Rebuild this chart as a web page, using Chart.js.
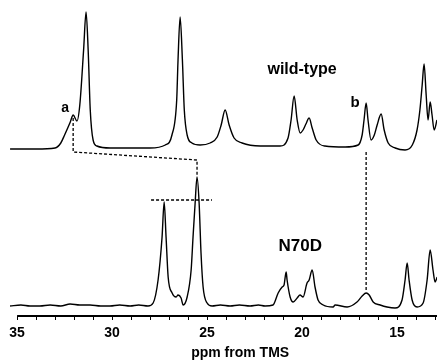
<!DOCTYPE html>
<html>
<head>
<meta charset="utf-8">
<script src="https://cdn.jsdelivr.net/npm/chart.js@4"></script>
<style>
  html, body { margin: 0; padding: 0; background: #fff; }
  canvas { display: block; }
</style>
</head>
<body>
<canvas id="nmr" width="437" height="360"></canvas>
<script>
// chemical shift (ppm) and intensity above baseline
const WT_PPM = [35.37, 34.0, 33.0, 32.7, 32.5, 32.2, 32.05, 31.85, 31.7, 31.5, 31.37, 31.26, 31.15, 31.0, 30.8, 30.1,
  28.0, 27.2, 26.85, 26.6, 26.53, 26.42, 26.3, 26.2, 26.05, 25.8, 25.37, 24.84, 24.47, 24.26, 24.05, 23.84, 23.58,
  23.16, 22.2, 21.16, 20.74, 20.58, 20.42, 20.26, 20.1, 19.95, 19.8, 19.63, 19.47, 19.26, 18.8, 17.74, 17.05, 16.84,
  16.74, 16.63, 16.53, 16.37, 16.2, 16.05, 15.84, 15.68, 15.47, 15.1, 14.58, 14.2, 13.95, 13.8, 13.68, 13.58, 13.47,
  13.37, 13.26, 13.16, 13.05, 12.9];
const WT_INT = [0, 0, 1, 6, 14, 27, 34, 28, 44, 99, 137, 99, 39, 9, 3, 1,
  1, 4, 14, 49, 89, 132, 89, 39, 14, 6, 4, 6, 12, 24, 39, 24, 11,
  6, 3, 3, 11, 29, 53, 29, 16, 19, 25, 31, 21, 9, 3, 2, 4, 14,
  29, 46, 29, 9, 14, 24, 35, 19, 6, 1, -1, 4, 19, 39, 64, 85, 54,
  29, 47, 34, 19, 29];

const N70D_PPM = [35.37, 34.8, 34.32, 33.8, 33.26, 32.7, 32.21, 31.7, 31.16, 30.6, 30.11, 29.6, 29.05, 28.6, 28.11,
  27.84, 27.58, 27.37, 27.26, 27.16, 27.05,
  26.84, 26.63, 26.53, 26.37, 26.26, 26.05, 25.84, 25.74, 25.63, 25.53, 25.42, 25.32, 25.21, 25.0, 24.74, 24.3, 23.79,
  23.3, 22.74, 22.3, 21.95, 21.53, 21.26, 21.05, 20.95, 20.84, 20.79, 20.63, 20.47, 20.26, 20.11, 19.95, 19.74, 19.63, 19.47,
  19.32, 19.16, 18.89, 18.37, 18.26, 17.63, 17.11, 16.84, 16.63, 16.47, 16.26, 15.89, 15.53, 15.11, 14.74, 14.58,
  14.47, 14.37, 14.21, 13.95, 13.63, 13.42, 13.26, 13.11, 13.0, 12.89];
const N70D_INT = [0, 1, 0, 0, 1, 0, 2, 1, 1, 0, 0, 1, 0, 1, 0,
  3, 26, 69, 104, 69, 29,
  13, 9, 11, 8, 1, 9, 36, 69, 103, 129, 103, 53, 19, 3, 0, 1, 0,
  1, 0, 1, 0, 1, 13, 19, 21, 34, 26, 9, 4, 8, 11, 9, 23, 26, 36,
  19, 6, 1, -1, 1, -1, 4, 10, 13, 11, 4, 1, -1, -2, 6, 26,
  43, 26, 6, -1, 3, 26, 56, 36, 24, 29];

// dotted guide lines (ppm, level on the common display scale)
const LINK_A_PPM = [32.05, 32.05, 25.53, 25.53];
const LINK_A_LVL = [198, 164, 156, 140];
const LINK_B_PPM = [16.63, 16.63];
const LINK_B_LVL = [164, 24];
const BAR_PPM = [27.95, 24.74];
const BAR_LVL = [116, 116];

const TICK_VALUES = [35, 34, 33, 32, 31, 30, 29, 28, 27, 26, 25, 24, 23, 22, 21, 20, 19, 18, 17, 16, 15, 14, 13];
const TICK_LABELS = [35, 30, 25, 20, 15];

const WT_BASE = 167;
const N70D_BASE = 10;
const FONT = '"Liberation Sans", Arial, sans-serif';

const pts = (xs, ys, off) => xs.map((x, i) => ({ x: x, y: ys[i] + off }));

const trace = (data) => ({
  data: data,
  borderColor: '#000',
  borderWidth: 1.4,
  pointRadius: 0,
  cubicInterpolationMode: 'monotone',
  fill: false
});
const dotted = (data) => ({
  data: data,
  borderColor: '#000',
  borderWidth: 1.3,
  borderDash: [3, 2],
  pointRadius: 0,
  tension: 0,
  fill: false
});

// axis line from 35 ppm, tick labels and the text labels
const decor = {
  id: 'decor',
  afterDraw(chart) {
    const { ctx, scales: { x, y }, chartArea } = chart;
    ctx.save();
    ctx.strokeStyle = '#000';
    ctx.lineWidth = 2;
    ctx.beginPath();
    ctx.moveTo(x.getPixelForValue(35), chartArea.bottom);
    ctx.lineTo(chartArea.right, chartArea.bottom);
    ctx.stroke();

    ctx.fillStyle = '#000';
    ctx.textAlign = 'center';
    ctx.textBaseline = 'middle';
    ctx.font = 'bold 14px ' + FONT;
    TICK_LABELS.forEach((v) => {
      ctx.fillText(String(v), x.getPixelForValue(v), chartArea.bottom + 17);
    });
    ctx.fillText('ppm from TMS', x.getPixelForValue(23.26), chartArea.bottom + 37);

    const put = (txt, size, ppm, lvl) => {
      ctx.font = 'bold ' + size + 'px ' + FONT;
      ctx.fillText(txt, x.getPixelForValue(ppm), y.getPixelForValue(lvl));
    };
    put('wild-type', 16, 20.0, 246);
    put('a', 14, 32.47, 208);
    put('b', 15, 17.21, 213);
    put('N70D', 17, 20.1, 70);
    ctx.restore();
  }
};

new Chart(document.getElementById('nmr'), {
  type: 'line',
  data: {
    datasets: [
      trace(pts(WT_PPM, WT_INT, WT_BASE)),
      trace(pts(N70D_PPM, N70D_INT, N70D_BASE)),
      dotted(pts(LINK_A_PPM, LINK_A_LVL, 0)),
      dotted(pts(LINK_B_PPM, LINK_B_LVL, 0)),
      dotted(pts(BAR_PPM, BAR_LVL, 0))
    ]
  },
  options: {
    responsive: false,
    animation: false,
    devicePixelRatio: 1,
    layout: { padding: { left: 0, right: 0, top: 0, bottom: 40 } },
    plugins: {
      legend: { display: false },
      tooltip: { enabled: false }
    },
    scales: {
      x: {
        type: 'linear',
        reverse: true,
        min: 12.9,
        max: 35.9,
        afterBuildTicks: (axis) => {
          axis.ticks = TICK_VALUES.map((v) => ({ value: v }));
        },
        border: { display: false },
        grid: {
          drawOnChartArea: false,
          drawTicks: true,
          tickLength: 4,
          color: '#000',
          lineWidth: 1
        },
        ticks: { display: false }
      },
      y: {
        display: false,
        min: 0,
        max: 316
      }
    }
  },
  plugins: [decor]
});
</script>
</body>
</html>
